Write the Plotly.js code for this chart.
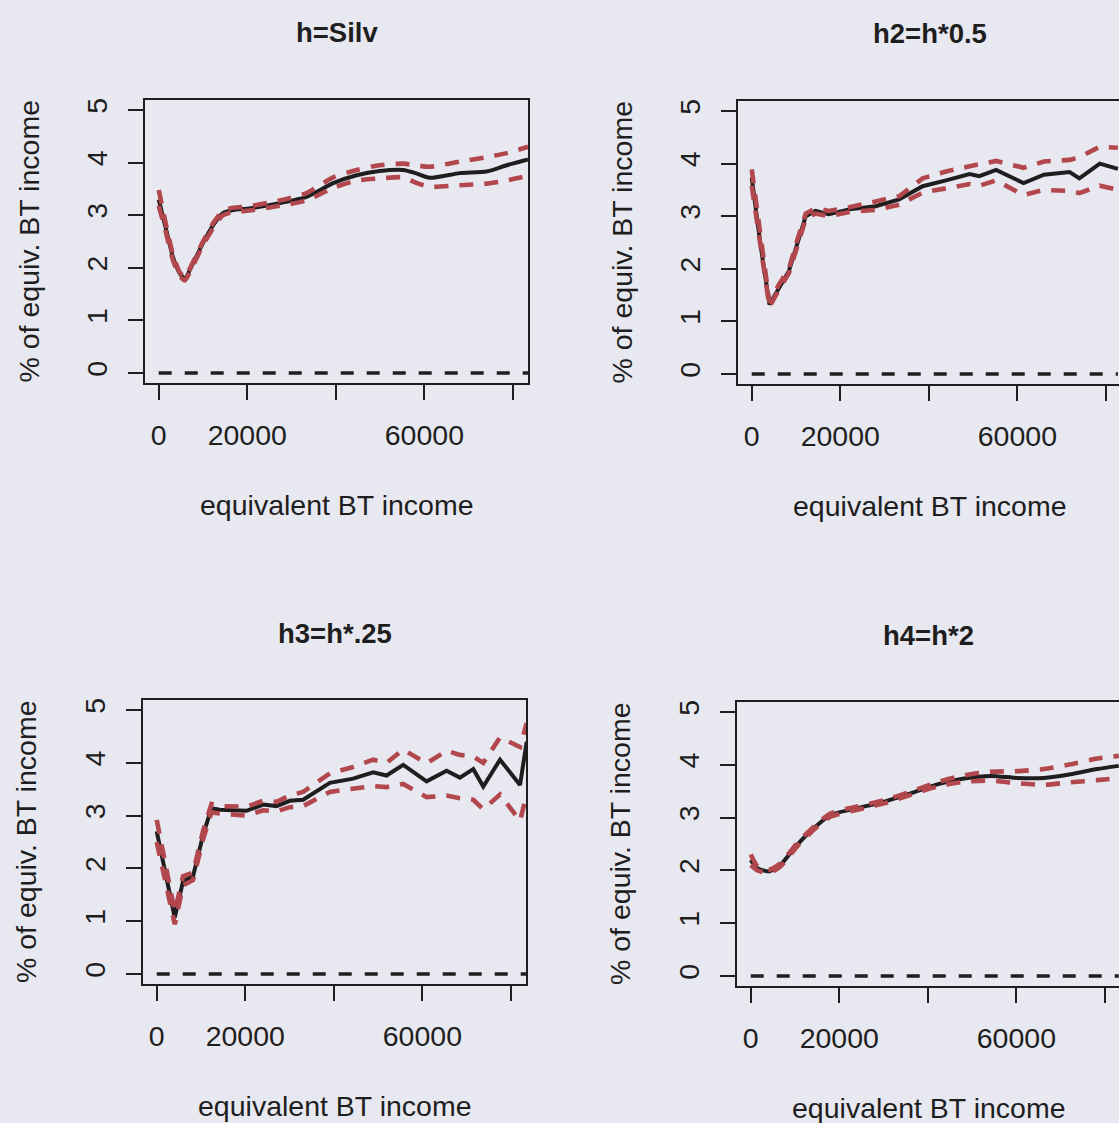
<!DOCTYPE html>
<html>
<head>
<meta charset="utf-8">
<script src="https://cdn.plot.ly/plotly-3.0.1.min.js"></script>
<style>
html,body{margin:0;padding:0;overflow:hidden;background:#e8e8f0;}
#chart{width:1124px;height:1123px;}
</style>
</head>
<body>
<div id="chart"></div>
<script>
// ---- data ----
const panelTitles = ["h=Silv", "h2=h*0.5", "h3=h*.25", "h4=h*2"];
const xAxisLabel = "equivalent BT income";
const yAxisLabel = "% of equiv. BT income";
const xTickVals = [0, 20000, 40000, 60000, 80000];
const xTickText = ["0", "20000", "", "60000", ""];
const yTickVals = [0, 1, 2, 3, 4, 5];

// panel 1: h=Silv
const x1 = [0, 1700, 3200, 4700, 5900, 7700, 10000, 12300, 14500, 16800, 20500, 27300, 33400, 39400, 44700, 49900, 55200, 58000, 61200, 68000, 74000, 78600, 83400];
const est1 = [3.30, 2.72, 2.21, 1.90, 1.80, 2.08, 2.47, 2.81, 3.04, 3.10, 3.13, 3.23, 3.35, 3.61, 3.76, 3.84, 3.86, 3.80, 3.71, 3.80, 3.83, 3.95, 4.06];
const up1  = [3.48, 2.80, 2.25, 1.92, 1.82, 2.10, 2.50, 2.85, 3.08, 3.14, 3.17, 3.28, 3.42, 3.72, 3.86, 3.95, 3.98, 3.95, 3.92, 4.02, 4.10, 4.18, 4.30];
const lo1  = [3.18, 2.65, 2.15, 1.85, 1.76, 2.04, 2.43, 2.76, 3.00, 3.06, 3.09, 3.18, 3.28, 3.52, 3.66, 3.70, 3.72, 3.62, 3.54, 3.57, 3.60, 3.66, 3.75];

// panel 2: h2=h*0.5
const x2 = [0, 2000, 4000, 6000, 8400, 10300, 12200, 14400, 17400, 22000, 28000, 33300, 38600, 43900, 49200, 51400, 55200, 61400, 66000, 71800, 74000, 78600, 82700];
const est2 = [3.73, 2.45, 1.32, 1.62, 1.96, 2.48, 3.00, 3.10, 3.04, 3.13, 3.19, 3.32, 3.57, 3.68, 3.80, 3.76, 3.88, 3.63, 3.79, 3.84, 3.72, 4.00, 3.90];
const up2  = [3.89, 2.55, 1.36, 1.68, 2.00, 2.55, 3.05, 3.15, 3.10, 3.17, 3.28, 3.38, 3.72, 3.85, 3.95, 3.98, 4.05, 3.92, 4.04, 4.07, 4.12, 4.32, 4.30];
const lo2  = [3.58, 2.38, 1.28, 1.58, 1.92, 2.43, 2.95, 3.05, 3.00, 3.08, 3.12, 3.22, 3.45, 3.53, 3.61, 3.58, 3.68, 3.40, 3.50, 3.48, 3.44, 3.58, 3.50];

// panel 3: h3=h*.25
const x3 = [0, 4070, 5950, 8200, 10500, 12360, 14240, 20270, 24030, 27050, 30060, 33070, 39100, 44360, 48880, 51900, 55670, 60950, 65470, 68470, 71490, 73750, 77530, 82050, 83560];
const est3 = [2.70, 1.07, 1.76, 1.85, 2.64, 3.14, 3.11, 3.09, 3.21, 3.18, 3.28, 3.30, 3.62, 3.70, 3.82, 3.76, 3.96, 3.65, 3.85, 3.72, 3.88, 3.55, 4.06, 3.58, 4.40];
const up3  = [2.92, 1.18, 1.85, 1.92, 2.72, 3.22, 3.18, 3.17, 3.28, 3.26, 3.38, 3.45, 3.80, 3.92, 4.06, 4.00, 4.25, 3.99, 4.23, 4.15, 4.12, 4.00, 4.48, 4.30, 4.75];
const lo3  = [2.50, 0.94, 1.68, 1.78, 2.56, 3.06, 3.04, 3.00, 3.10, 3.08, 3.16, 3.18, 3.45, 3.50, 3.56, 3.54, 3.60, 3.35, 3.38, 3.33, 3.30, 3.12, 3.40, 2.90, 3.40];

// panel 4: h4=h*2
const x4 = [0, 1510, 4130, 6770, 10540, 15060, 18060, 24080, 30100, 36120, 42140, 48160, 54180, 60200, 66200, 72230, 78250, 83130];
const est4 = [2.20, 2.04, 1.98, 2.11, 2.49, 2.86, 3.05, 3.18, 3.30, 3.46, 3.63, 3.74, 3.79, 3.75, 3.75, 3.82, 3.92, 3.98];
const up4  = [2.30, 2.08, 2.01, 2.14, 2.52, 2.89, 3.08, 3.21, 3.33, 3.49, 3.67, 3.80, 3.87, 3.88, 3.92, 4.01, 4.12, 4.17];
const lo4  = [2.10, 2.00, 1.95, 2.08, 2.46, 2.83, 3.02, 3.15, 3.27, 3.43, 3.59, 3.68, 3.70, 3.65, 3.62, 3.67, 3.71, 3.75];

// ---- layout geometry ----
const W = 1124, H = 1123;
const FONT = "Liberation Sans, Arial, Helvetica, sans-serif";
const INK = "#1e1e1e";
const RED = "#b2474e";
const BG = "#e8e8f0";
const FS = 28.5;

const panels = [
  {x: x1, est: est1, up: up1, lo: lo1, box: [145, 528, 100, 383], smooth: true},
  {x: x2, est: est2, up: up2, lo: lo2, box: [738, 1121, 101, 384], smooth: false},
  {x: x3, est: est3, up: up3, lo: lo3, box: [143, 526, 700, 984], smooth: false},
  {x: x4, est: est4, up: up4, lo: lo4, box: [737, 1120, 702, 986], smooth: true}
];

const traces = [];
const layout = {
  width: W, height: H,
  margin: {l: 0, r: 0, t: 0, b: 0},
  paper_bgcolor: BG, plot_bgcolor: BG,
  showlegend: false,
  font: {family: FONT, size: FS, color: INK},
  annotations: []
};

panels.forEach((p, i) => {
  const n = i + 1;
  const xa = n === 1 ? "x" : "x" + n;
  const ya = n === 1 ? "y" : "y" + n;
  const shape = p.smooth ? "spline" : "linear";
  // zero reference line
  traces.push({x: [p.x[0], p.x[p.x.length - 1]], y: [0, 0], xaxis: xa, yaxis: ya,
    mode: "lines", line: {color: INK, width: 3.6, dash: "13px,13px"}, hoverinfo: "skip"});
  traces.push({x: p.x, y: p.est, xaxis: xa, yaxis: ya, mode: "lines",
    line: {color: INK, width: 4, shape: shape, smoothing: 0.6}});
  traces.push({x: p.x, y: p.up, xaxis: xa, yaxis: ya, mode: "lines",
    line: {color: RED, width: 4.6, dash: "14px,11px", shape: shape, smoothing: 0.6}});
  traces.push({x: p.x, y: p.lo, xaxis: xa, yaxis: ya, mode: "lines",
    line: {color: RED, width: 4.6, dash: "14px,11px", shape: shape, smoothing: 0.6}});

  const [L, R, T, B] = p.box;
  const common = {showgrid: false, zeroline: false, showline: true, mirror: true,
    linecolor: INK, linewidth: 2, ticks: "outside", ticklen: 15, tickwidth: 2,
    tickcolor: INK, tickfont: {family: FONT, size: FS, color: INK}, fixedrange: true};
  layout["xaxis" + (n === 1 ? "" : n)] = Object.assign({}, common, {
    domain: [L / W, R / W], range: [-3100, 83400], anchor: ya,
    tickmode: "array", tickvals: xTickVals, ticktext: xTickText, ticklabelstandoff: 11
  });
  layout["yaxis" + (n === 1 ? "" : n)] = Object.assign({}, common, {
    domain: [1 - B / H, 1 - T / H], range: [-0.19, 5.19], anchor: xa,
    tickmode: "array", tickvals: yTickVals, ticktext: yTickVals.map(String),
    tickangle: -90, ticklabelstandoff: 10
  });

  const cx = (L + R) / 2;
  layout.annotations.push({text: "<b>" + panelTitles[i] + "</b>", xref: "paper", yref: "paper",
    x: cx / W, y: 1 - (T - 67) / H, xanchor: "center", yanchor: "middle", showarrow: false,
    font: {family: FONT, size: 27.5, color: INK}});
  layout.annotations.push({text: xAxisLabel, xref: "paper", yref: "paper",
    x: cx / W, y: 1 - (B + 122) / H, xanchor: "center", yanchor: "middle", showarrow: false,
    font: {family: FONT, size: FS, color: INK}});
  layout.annotations.push({text: yAxisLabel, xref: "paper", yref: "paper",
    x: (L - 117) / W, y: 1 - ((T + B) / 2) / H, xanchor: "center", yanchor: "middle",
    textangle: -90, showarrow: false, font: {family: FONT, size: FS, color: INK}});
});

Plotly.newPlot("chart", traces, layout, {staticPlot: true, displayModeBar: false});
</script>
</body>
</html>
